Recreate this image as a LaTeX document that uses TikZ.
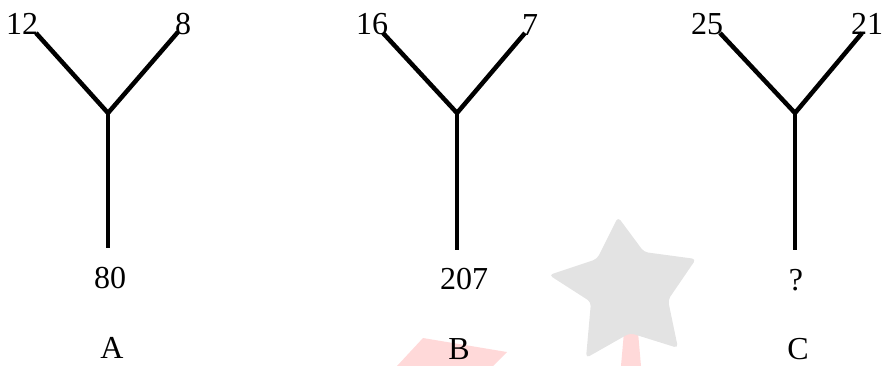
\documentclass[tikz,border=0pt]{standalone}
\usepackage{fontspec}
\setmainfont{Liberation Serif}
\begin{document}
\begin{tikzpicture}[x=1pt,y=-1pt,
  branch/.style={line width=4.5pt,line join=miter},
  lbl/.style={font=\fontsize{32}{38}\selectfont,inner sep=0pt}]
\useasboundingbox (0,0) rectangle (884,365);
% watermark
\fill[red!15] (423,338) -- (507,352) -- (493,366) -- (397,366) -- cycle;
\fill[red!15] (624,332) -- (638,332) -- (641,366) -- (621,366) -- cycle;
\fill[gray!22,rounded corners=4pt] (618,217) -- (644,252) -- (696,259) -- (668,300) -- (678,348) -- (630,333) -- (586,358) -- (591,302) -- (549,275) -- (597,259) -- cycle;
% tree A
\coordinate (aL) at (36,33);
\coordinate (aR) at (178,32);
\coordinate (aJ) at (108,113);
\coordinate (aB) at (108,248);
\draw[branch] (aL) -- (aJ) -- (aR);
\draw[branch] (aJ) -- (aB);
\node[lbl] (a1) at (22,24) {12};
\node[lbl] (a2) at (183,24) {8};
\node[lbl] (a3) at (110,278) {80};
\node[lbl] (a4) at (112,348) {A};
% tree B
\coordinate (bL) at (383,33);
\coordinate (bR) at (525,33);
\coordinate (bJ) at (457,113);
\coordinate (bB) at (457,250);
\draw[branch] (bL) -- (bJ) -- (bR);
\draw[branch] (bJ) -- (bB);
\node[lbl] (b1) at (372,24) {16};
\node[lbl] (b2) at (530,25) {7};
\node[lbl] (b3) at (464,279) {207};
\node[lbl] (b4) at (459,349) {B};
% tree C
\coordinate (cL) at (720,33);
\coordinate (cR) at (862,33);
\coordinate (cJ) at (795,113);
\coordinate (cB) at (795,250);
\draw[branch] (cL) -- (cJ) -- (cR);
\draw[branch] (cJ) -- (cB);
\node[lbl] (c1) at (707,24) {25};
\node[lbl] (c2) at (867,24) {21};
\node[lbl] (c3) at (796,280) {?};
\node[lbl] (c4) at (798,349) {C};
\end{tikzpicture}
\end{document}
